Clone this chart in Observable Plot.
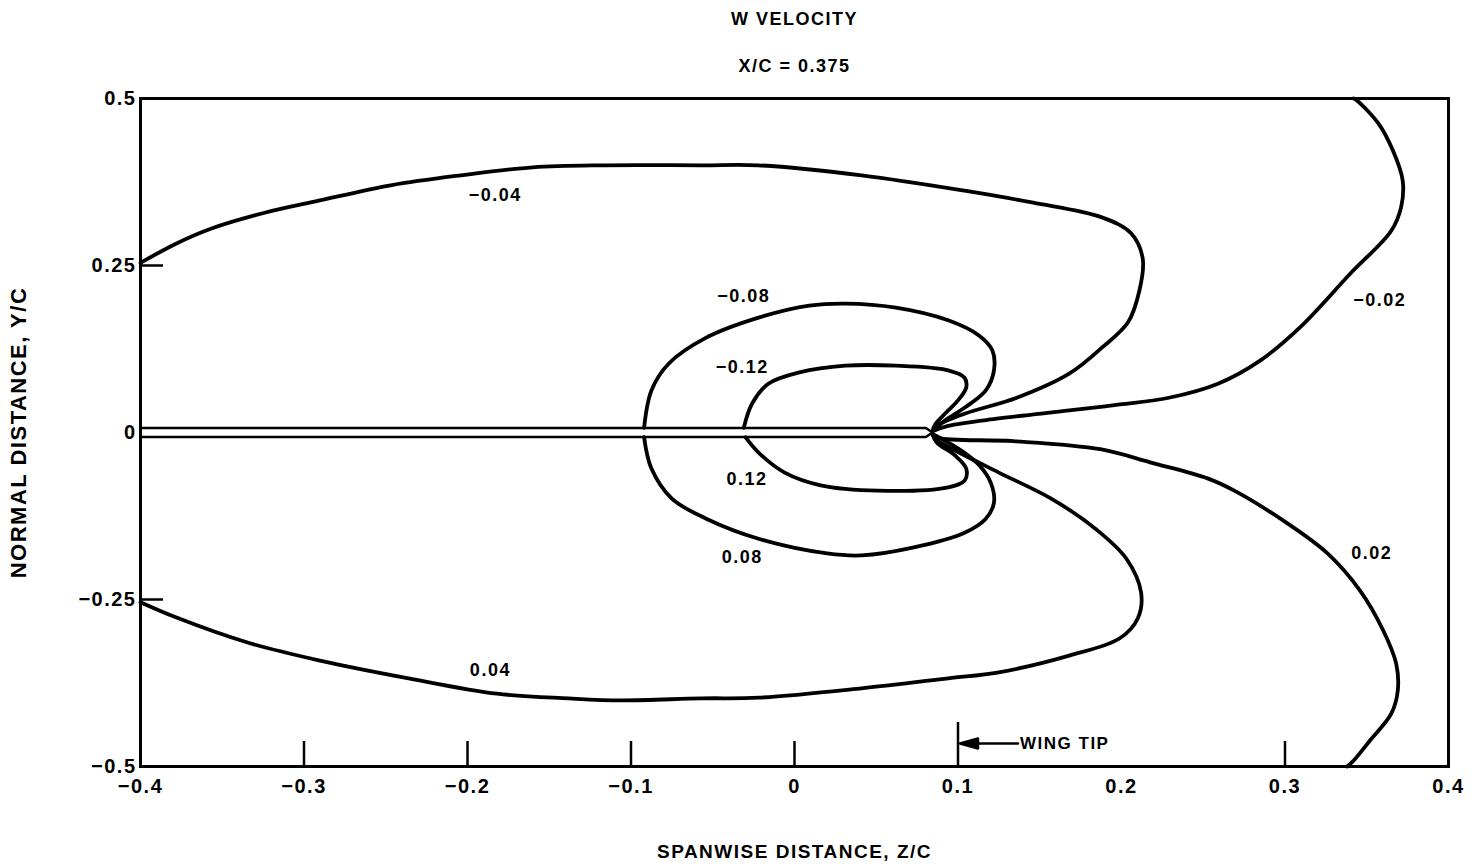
<!DOCTYPE html>
<html>
<head>
<meta charset="utf-8">
<script src="https://cdn.jsdelivr.net/npm/d3@7"></script>
<script src="https://cdn.jsdelivr.net/npm/@observablehq/plot@0.6"></script>
<style>
  html, body { margin: 0; padding: 0; background: #fff; }
  #chart svg { display: block; }
</style>
</head>
<body>
<div id="chart"></div>
<script>
// W velocity contours in the crossflow plane at X/C = 0.375.
// Each contour is a list of [Z/C, Y/C] points.
const titleText = "W VELOCITY";
const stationText = "X/C = 0.375";
const xLabel = "SPANWISE DISTANCE, Z/C";
const yLabel = "NORMAL DISTANCE, Y/C";

const levels = [-0.12, -0.08, -0.04, -0.02, 0.02, 0.04, 0.08, 0.12];

const contourM12 = [[-0.031, 0.007], [-0.026, 0.043], [-0.016, 0.073], [0.003, 0.090], [0.031, 0.100],
  [0.062, 0.100], [0.094, 0.093], [0.104, 0.082], [0.105, 0.067], [0.100, 0.048], [0.092, 0.028],
  [0.086, 0.012], [0.0844, 0.002]];
const contourM08 = [[-0.092, 0.007], [-0.0875, 0.063], [-0.077, 0.103], [-0.054, 0.142], [-0.022, 0.172],
  [0.009, 0.190], [0.031, 0.193], [0.062, 0.187], [0.094, 0.168], [0.113, 0.145], [0.121, 0.123],
  [0.122, 0.093], [0.117, 0.063], [0.104, 0.037], [0.092, 0.018], [0.0844, 0.002]];
const contourM04 = [[-0.400, 0.254], [-0.378, 0.283], [-0.357, 0.305], [-0.324, 0.329], [-0.291, 0.347],
  [-0.247, 0.370], [-0.204, 0.385], [-0.160, 0.397], [-0.116, 0.400], [-0.057, 0.400], [-0.022, 0.400],
  [0.041, 0.385], [0.104, 0.362], [0.146, 0.344], [0.188, 0.322], [0.206, 0.298], [0.213, 0.260],
  [0.211, 0.213], [0.204, 0.165], [0.188, 0.127], [0.168, 0.088], [0.136, 0.052], [0.104, 0.028],
  [0.087, 0.010], [0.0844, 0.002]];
const contourM02 = [[0.0844, 0.002], [0.094, 0.010], [0.125, 0.021], [0.168, 0.033], [0.199, 0.042],
  [0.229, 0.052], [0.259, 0.073], [0.285, 0.108], [0.309, 0.157], [0.340, 0.238], [0.365, 0.302],
  [0.371, 0.337], [0.372, 0.377], [0.366, 0.422], [0.357, 0.463], [0.344, 0.497], [0.342, 0.500]];
const contourP02 = [[0.0844, -0.002], [0.088, -0.008], [0.134, -0.013], [0.187, -0.025], [0.218, -0.045],
  [0.253, -0.069], [0.269, -0.087], [0.299, -0.132], [0.326, -0.181], [0.346, -0.237], [0.360, -0.296],
  [0.368, -0.346], [0.369, -0.386], [0.365, -0.421], [0.352, -0.461], [0.342, -0.491], [0.338, -0.500]];
const contourP04 = [[-0.400, -0.254], [-0.378, -0.277], [-0.335, -0.314], [-0.291, -0.341], [-0.236, -0.368],
  [-0.182, -0.391], [-0.138, -0.398], [-0.106, -0.401], [-0.057, -0.398], [-0.022, -0.397], [0.041, -0.383],
  [0.094, -0.368], [0.125, -0.359], [0.168, -0.334], [0.199, -0.308], [0.210, -0.278], [0.212, -0.240],
  [0.203, -0.189], [0.184, -0.144], [0.157, -0.099], [0.125, -0.060], [0.096, -0.024], [0.086, -0.009],
  [0.0844, -0.002]];
const contourP08 = [[-0.092, -0.007], [-0.0875, -0.054], [-0.075, -0.099], [-0.054, -0.129], [-0.022, -0.159],
  [0.020, -0.181], [0.041, -0.184], [0.073, -0.172], [0.104, -0.150], [0.117, -0.129], [0.122, -0.105],
  [0.120, -0.075], [0.113, -0.049], [0.102, -0.027], [0.092, -0.012], [0.0844, -0.002]];
const contourP12 = [[-0.030, -0.007], [-0.022, -0.030], [-0.006, -0.060], [0.016, -0.079], [0.051, -0.087],
  [0.094, -0.082], [0.104, -0.072], [0.105, -0.054], [0.098, -0.034], [0.087, -0.015], [0.0844, -0.002]];

// Where each level's value is written, [Z/C, Y/C], in the order of `levels`
const labelAt = [[-0.032, 0.097], [-0.031, 0.204], [-0.183, 0.355], [0.358, 0.198],
  [0.353, -0.180], [-0.186, -0.356], [-0.032, -0.187], [-0.029, -0.070]];

// Flat plate (wing) in the plane: thickness and tip position
const plateRoot = -0.4;
const plateTip = 0.0844;
const plateHalf = 0.0067;
const plateOutline = [[plateRoot, plateHalf], [plateTip - 0.004, plateHalf], [plateTip, 0],
  [plateTip - 0.004, -plateHalf], [plateRoot, -plateHalf]];

// Axis ticks
const xTickValues = [-0.4, -0.3, -0.2, -0.1, 0, 0.1, 0.2, 0.3, 0.4];
const xInnerTicks = [-0.3, -0.2, -0.1, 0, 0.3];
const yTickValues = [-0.5, -0.25, 0, 0.25, 0.5];
const yInnerTicks = [-0.25, 0.25];
const wingTip = {z: 0.1, label: "WING TIP"};

const contourSets = [contourM12, contourM08, contourM04, contourM02, contourP02, contourP04, contourP08, contourP12];
const contourRows = contourSets.flatMap((pts, i) => pts.map(([z, y]) => ({level: levels[i], z, y})));
const labelRows = levels.map((level, i) => ({level, z: labelAt[i][0], y: labelAt[i][1]}));

const fmt = (d) => d === 0 ? "0" : (d < 0 ? "\u2212" : "") + String(Math.abs(d));

const W = 1472, H = 868;
const M = {top: 98, right: 24, bottom: 102, left: 140};
const frameW = W - M.left - M.right;
const frameH = H - M.top - M.bottom;

// Arrow pointing west: shaft plus a filled head at the tip
const arrowShape = {
  draw(context, l) {
    context.moveTo(0, 0);
    context.lineTo(0, -l + 8);
    context.moveTo(0, -l);
    context.lineTo(-5, -l + 18);
    context.lineTo(5, -l + 18);
    context.closePath();
  }
};

const chart = Plot.plot({
  width: W,
  height: H,
  marginTop: M.top,
  marginRight: M.right,
  marginBottom: M.bottom,
  marginLeft: M.left,
  x: {domain: [-0.4, 0.4]},
  y: {domain: [-0.5, 0.5]},
  style: {
    fontFamily: "'Liberation Sans', Arial, Helvetica, sans-serif",
    fontWeight: "bold",
    fontSize: "18px",
    letterSpacing: "1.5px",
    color: "#000",
    background: "#fff"
  },
  marks: [
    Plot.axisX(xTickValues, {tickSize: 0, tickPadding: 12, tickFormat: fmt, fontSize: 20, label: null}),
    Plot.axisY(yTickValues, {tickSize: 0, tickPadding: 4, tickFormat: fmt, fontSize: 20, label: null}),
    // inward ticks
    Plot.tickX(xInnerTicks, {x: (d) => d, insetTop: frameH - 25, strokeWidth: 2.5}),
    Plot.tickX([wingTip], {x: "z", insetTop: frameH - 44, strokeWidth: 2.5}),
    Plot.tickY(yInnerTicks, {y: (d) => d, insetRight: frameW - 23, strokeWidth: 2.5}),
    // wing tip annotation
    Plot.vector([wingTip], {x: "z", frameAnchor: "bottom", dy: -23, dx: 2, length: 58, rotate: -90,
      anchor: "end", shape: arrowShape, stroke: "black", fill: "black", strokeWidth: 2.5}),
    Plot.text([wingTip], {x: "z", text: "label", frameAnchor: "bottom", lineAnchor: "middle", dy: -23, dx: 62,
      textAnchor: "start", fontSize: 17}),
    // flat plate
    Plot.line(plateOutline, {x: "0", y: "1", strokeWidth: 2.5, strokeLinejoin: "miter"}),
    // contours
    Plot.line(contourRows, {x: "z", y: "y", z: "level", curve: "catmull-rom", strokeWidth: 3.8,
      stroke: "black", strokeLinejoin: "round", strokeLinecap: "round"}),
    Plot.text(labelRows, {x: "z", y: "y", text: (d) => fmt(d.level), fontSize: 18}),
    Plot.frame({strokeWidth: 3, stroke: "black"}),
    // titles and axis labels
    Plot.text([titleText], {frameAnchor: "top", lineAnchor: "middle", dy: -79, text: (d) => d, fontSize: 18}),
    Plot.text([stationText], {frameAnchor: "top", lineAnchor: "middle", dy: -32, text: (d) => d, fontSize: 18}),
    Plot.text([xLabel], {frameAnchor: "bottom", lineAnchor: "middle", dy: 85, text: (d) => d, fontSize: 19}),
    Plot.text([yLabel], {frameAnchor: "left", textAnchor: "middle", lineAnchor: "middle", dx: -122, rotate: -90,
      text: (d) => d, fontSize: 22})
  ]
});

document.getElementById("chart").appendChild(chart);
</script>
</body>
</html>
